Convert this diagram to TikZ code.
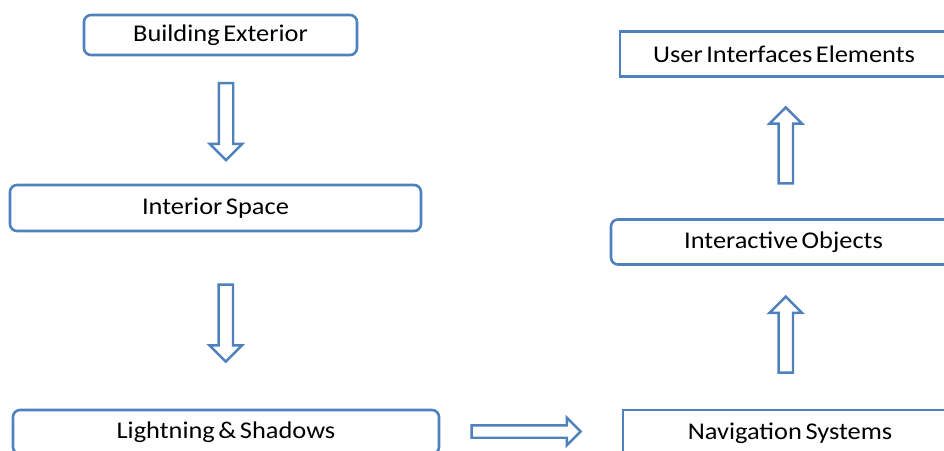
\documentclass[tikz,border=0pt]{standalone}
\usepackage{fontspec}
\setmainfont{Carlito}[FakeStretch=1.1,WordSpace=0.6]
\usetikzlibrary{positioning,calc,shapes.arrows}
\definecolor{boxblue}{RGB}{79,129,189}

\begin{document}
\begin{tikzpicture}[x=1pt,y=-1pt,
  box/.style={draw=boxblue,line width=2.6pt,rounded corners=7pt,text=black,
    inner sep=0pt,font=\fontsize{24}{28}\selectfont},
  sqbox/.style={box,rounded corners=0pt},
  blockarrow/.style={single arrow,draw=boxblue,line width=2.4pt,inner xsep=0pt,
    inner ysep=6pt,minimum width=32pt,minimum height=77pt,single arrow head extend=9pt,
    single arrow tip angle=90}]
\useasboundingbox (0,0) rectangle (944,450);
\clip (0,0) rectangle (944,450);

% left column
\node[box,minimum width=273pt,minimum height=40pt] (ext) at (220.5,35) {Building Exterior};
\node[box,minimum width=411pt,minimum height=46pt] (int) at (215.5,208) {Interior Space};
\node[box,minimum width=426pt,minimum height=44pt] (light) at (226,432) {Lightning \& Shadows};

% right column
\node[sqbox,minimum width=334pt,minimum height=46pt] (nav) at (790,433) {Navigation Systems};
\node[box,minimum width=345pt,minimum height=45pt] (obj) at (783.5,242) {Interactive Objects};
\node[sqbox,minimum width=328pt,minimum height=45pt] (ui) at (784,54) {User Interfaces Elements};

% block arrows
\node[blockarrow,rotate=-90] (a1) at ($(ext.south)!.5!(int.north)+(8,-2)$) {};
\node[blockarrow,rotate=-90] (a2) at ($(int.south)!.5!(light.north)+(5,-1)$) {};
\node[blockarrow,inner ysep=5pt,minimum width=27pt,minimum height=109pt,single arrow head extend=7.5pt]
  (a3) at ($(light.east)!.5!(nav.west)+(-8,-1)$) {};
\node[blockarrow,rotate=90,minimum height=76pt] (a4) at ($(nav.north)!.5!(obj.south)+(-1,1)$) {};
\node[blockarrow,rotate=90,minimum height=76pt] (a5) at ($(obj.north)!.5!(ui.south)+(2,1)$) {};

\end{tikzpicture}
\end{document}
